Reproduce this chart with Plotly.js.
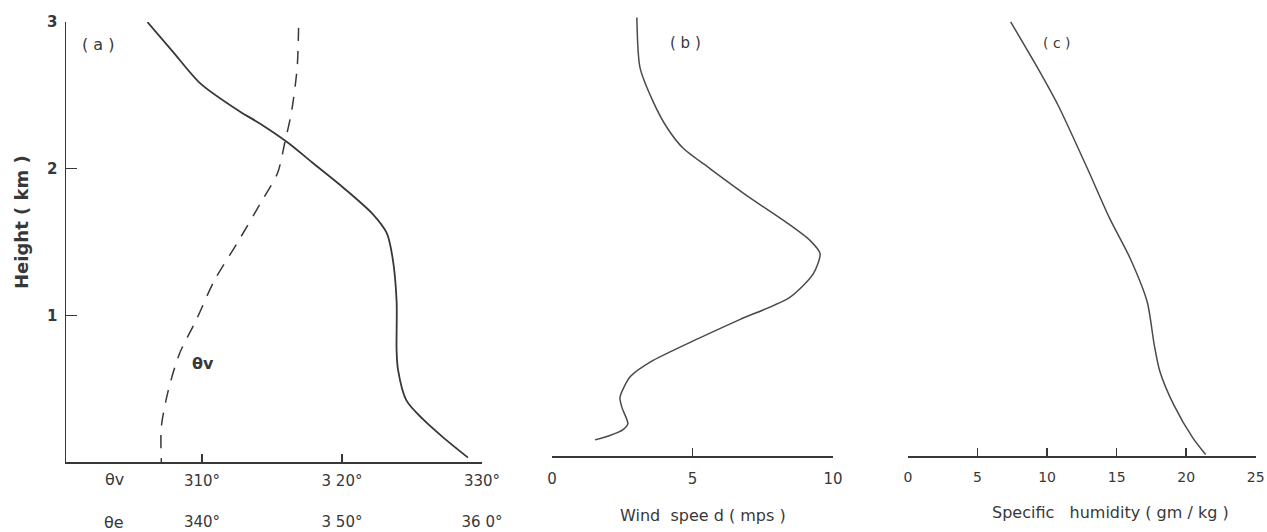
<!DOCTYPE html>
<html>
<head>
<meta charset="utf-8">
<script src="https://cdn.plot.ly/plotly-3.0.1.min.js"></script>
<style>html,body{margin:0;padding:0;background:#fff;}#chart{width:1267px;height:532px;}</style>
</head>
<body>
<div id="chart"></div>
<script>
// Panel (a): equivalent potential temperature (solid) vs height
var thetaEHeight = [3.0, 2.80, 2.58, 2.39, 2.31, 2.18, 2.04, 1.87, 1.69, 1.56, 1.40, 1.10, 0.76, 0.63, 0.42, 0.29, 0.17, 0.03];
var thetaE = [336.1, 337.9, 339.9, 342.7, 344.1, 346.1, 347.9, 350.1, 352.2, 353.2, 353.6, 353.9, 353.9, 354.0, 354.6, 355.8, 357.2, 359.0];
// Panel (a): virtual potential temperature (dashed) vs height
var thetaVHeight = [2.96, 2.69, 2.39, 2.17, 1.97, 1.80, 1.49, 1.24, 0.97, 0.74, 0.49, 0.24, 0.0];
var thetaV = [316.9, 316.8, 316.4, 315.9, 315.4, 314.4, 312.5, 310.9, 309.6, 308.4, 307.6, 307.1, 307.1];
// Panel (b): wind speed vs height
var windHeight = [2.99, 2.65, 2.42, 2.24, 2.10, 1.96, 1.76, 1.59, 1.47, 1.38, 1.24, 1.08, 0.93, 0.80, 0.64, 0.54, 0.40, 0.33, 0.22, 0.18, 0.14, 0.11];
var windSpeed = [3.02, 3.13, 3.59, 4.09, 4.66, 5.62, 7.05, 8.36, 9.18, 9.54, 9.29, 8.45, 6.68, 5.2, 3.49, 2.78, 2.42, 2.49, 2.70, 2.53, 2.06, 1.53];
// Panel (c): specific humidity vs height
var humHeight = [2.96, 2.64, 2.39, 1.96, 1.62, 1.35, 1.05, 0.76, 0.58, 0.35, 0.12, 0.01];
var humidity = [7.38, 9.36, 10.8, 12.9, 14.5, 15.96, 17.2, 17.7, 18.1, 19.1, 20.5, 21.4];
// Tick labels
var heightTicks = [1, 2, 3];
var thetaVTicks = [310, 320, 330];
var thetaVTickText = ['310°', '3 20°', '330°'];
var thetaETicks = [340, 350, 360];
var thetaETickText = ['340°', '3 50°', '36 0°'];
var windTicks = [0, 5, 10];
var humTicks = [0, 5, 10, 15, 20, 25];

var ink = '#383838';
var FONT = 'DejaVu Sans, sans-serif';

var traces = [
  {x: thetaE, y: thetaEHeight, xaxis: 'x4', yaxis: 'y', type: 'scatter', mode: 'lines',
   line: {color: ink, width: 1.8, shape: 'spline', smoothing: 0.8}, hoverinfo: 'skip'},
  {x: thetaV, y: thetaVHeight, xaxis: 'x', yaxis: 'y', type: 'scatter', mode: 'lines',
   line: {color: ink, width: 1.5, dash: '13px,10px', shape: 'spline', smoothing: 0.8}, hoverinfo: 'skip'},
  {x: windSpeed, y: windHeight, xaxis: 'x2', yaxis: 'y2', type: 'scatter', mode: 'lines',
   line: {color: '#4a4a4a', width: 1.5, shape: 'spline', smoothing: 0.7}, hoverinfo: 'skip'},
  {x: humidity, y: humHeight, xaxis: 'x3', yaxis: 'y3', type: 'scatter', mode: 'lines',
   line: {color: '#4a4a4a', width: 1.5, shape: 'spline', smoothing: 0.7}, hoverinfo: 'skip'}
];

function xax(domain, range, anchor, vals, text, standoff, fsize) {
  var a = {domain: domain, range: range, anchor: anchor, tickvals: vals, ticks: 'inside', ticklen: 8,
    tickwidth: 1.5, tickcolor: ink, showline: true, linecolor: ink, linewidth: 1.5,
    showgrid: false, zeroline: false, automargin: false, fixedrange: true,
    ticklabeloverflow: 'allow', ticklabelstandoff: standoff,
    tickfont: {family: FONT, size: fsize || 15, color: ink}};
  if (text) { a.ticktext = text; }
  return a;
}

var PH = 446; // plot-area height in px (paper y: 0 -> 462px, 1 -> 16px)
function py(p) { return (462 - p) / PH; }
function px(p) { return p / 1267; }
function ann(text, x, y, size, extra) {
  var a = {text: text, x: px(x), y: py(y), xref: 'paper', yref: 'paper', showarrow: false,
    xanchor: 'center', yanchor: 'middle', font: {family: FONT, size: size, color: ink}};
  for (var k in (extra || {})) { a[k] = extra[k]; }
  return a;
}

var layout = {
  width: 1267, height: 532,
  margin: {l: 0, r: 0, t: 16, b: 70},
  paper_bgcolor: '#fff', plot_bgcolor: 'rgba(0,0,0,0)',
  showlegend: false,
  font: {family: FONT, color: ink},
  xaxis: xax([px(66), px(482)], [300.29, 330], 'y', thetaVTicks, thetaVTickText, 4),
  xaxis4: {overlaying: 'x', anchor: 'y', side: 'bottom', range: [330.29, 360],
    tickvals: thetaETicks, ticktext: thetaETickText, ticks: '', showline: false,
    showgrid: false, zeroline: false, automargin: false, fixedrange: true, ticklabelstandoff: 49,
    ticklabeloverflow: 'allow', tickfont: {family: FONT, size: 15, color: ink}},
  xaxis2: xax([px(552), px(833)], [0, 10], 'y2', windTicks, null, 8),
  xaxis3: xax([px(908), px(1256)], [0, 25.02], 'y3', humTicks, null, 8, 14),
  yaxis: {domain: [0, py(22)], range: [0, 3], anchor: 'x', tickvals: heightTicks,
    ticks: 'inside', ticklen: 11, tickwidth: 1.5, tickcolor: ink, showline: true,
    linecolor: ink, linewidth: 1.5, showgrid: false, zeroline: false, automargin: false,
    fixedrange: true, ticklabelstandoff: 4, tickfont: {family: FONT, size: 15, color: ink, weight: 'bold'}},
  yaxis2: {domain: [py(456), 1], range: [0, 3], anchor: 'x2', visible: false, fixedrange: true},
  yaxis3: {domain: [py(456), 1], range: [0, 3], anchor: 'x3', visible: false, fixedrange: true},
  annotations: [
    ann('( a )', 98, 45, 16),
    ann('( b )', 685, 43, 15),
    ann('( c )', 1057, 43, 14),
    {text: 'θv', x: 310.1, y: 0.67, xref: 'x', yref: 'y', showarrow: false, xanchor: 'center', yanchor: 'middle',
     font: {family: FONT, size: 16, color: ink, weight: 'bold'}},
    ann('θv', 114, 480, 16),
    ann('θe', 114, 522, 16),
    ann('Wind  spee d ( mps )', 703, 515, 16),
    ann('Specific   humidity ( gm / kg )', 1110, 512, 16),
    ann('Height ( km )', 21, 222, 18, {textangle: -90, font: {family: FONT, size: 18, color: ink, weight: 'bold'}})
  ]
};

Plotly.newPlot('chart', traces, layout, {staticPlot: true, displayModeBar: false});
</script>
</body>
</html>
